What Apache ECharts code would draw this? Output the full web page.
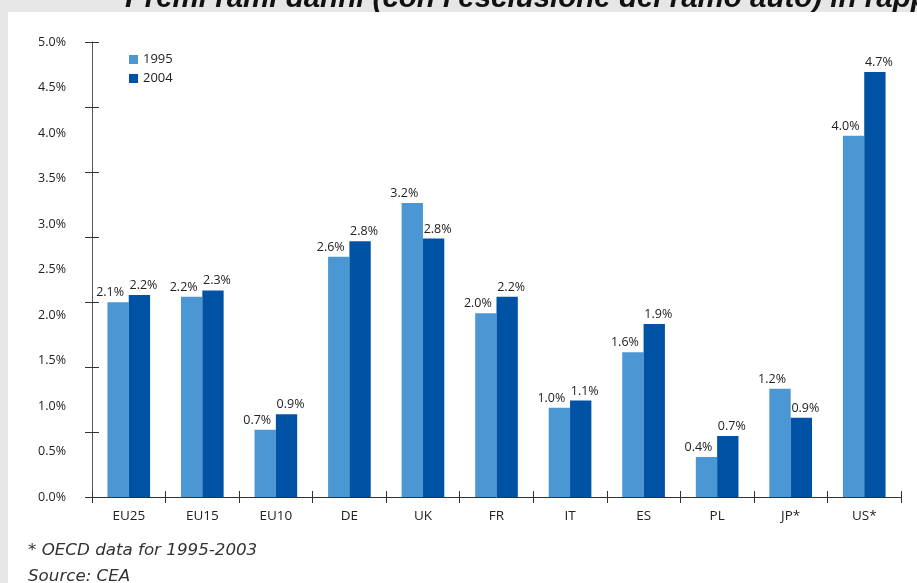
<!DOCTYPE html>
<html>
<head>
<meta charset="utf-8">
<script src="https://cdn.jsdelivr.net/npm/echarts@6/dist/echarts.min.js"></script>
<style>
  html, body { margin: 0; padding: 0; background: #e6e6e6; }
  #chart { width: 917px; height: 583px; }
</style>
</head>
<body>
<div id="chart"></div>
<script>
(function (window, echarts) {
    'use strict';

    const categories = ['EU25', 'EU15', 'EU10', 'DE', 'UK', 'FR', 'IT', 'ES', 'PL', 'JP*', 'US*'];
    const values1995 = [2.14, 2.2, 0.74, 2.64, 3.23, 2.02, 0.98, 1.59, 0.44, 1.19, 3.97];
    const values2004 = [2.22, 2.27, 0.91, 2.81, 2.84, 2.2, 1.06, 1.9, 0.67, 0.87, 4.67];
    const yTicks = [0, 5, 0.5];

    const font = '"Open Sans", "Noto Sans", sans-serif';
    const noteFont = '"DejaVu Sans", sans-serif';
    const textColor = '#222';

    const pct = v => v.toFixed(1) + '%';

    const chart = echarts.init(document.getElementById('chart'), null, {renderer: 'canvas'});

    const barLabel = (dx) => ({
        show: true,
        position: 'top',
        distance: 3,
        offset: [dx, 0],
        color: textColor,
        fontFamily: font,
        fontSize: 12.5,
        formatter: p => pct(p.value)
    });

    // ticks on the y axis do not follow the labels in the original, so an extra scale draws them
    const tickAxis = (inside) => ({
        type: 'value',
        position: 'left',
        min: 0,
        max: 7,
        interval: 1,
        axisLine: {show: false},
        axisLabel: {show: false},
        splitLine: {show: false},
        axisTick: {show: true, inside: inside, length: 7, lineStyle: {color: '#333'}}
    });

    const options = {
        backgroundColor: '#e6e6e6',
        animation: false,
        textStyle: {fontFamily: font},
        graphic: [
            {
                type: 'text', left: 125, top: -16, z: -2,
                style: {
                    text: "Premi rami danni (con l'esclusione del ramo auto) in rapporto al PIL",
                    font: 'italic bold 29.5px "Liberation Sans", Arial, sans-serif',
                    fill: '#111'
                }
            },
            {
                type: 'rect', z: -1,
                shape: {x: 8, y: 12, width: 909, height: 571},
                style: {fill: '#ffffff'}
            },
            {
                type: 'text', left: 28, top: 542,
                style: {text: '* OECD data for 1995-2003', font: 'oblique 16.7px ' + noteFont, fill: '#333'}
            },
            {
                type: 'text', left: 28, top: 568,
                style: {text: 'Source: CEA', font: 'oblique 16.7px ' + noteFont, fill: '#333'}
            }
        ],
        legend: {
            orient: 'vertical',
            left: 124,
            top: 48,
            itemWidth: 9,
            itemHeight: 9,
            itemGap: 6,
            icon: 'rect',
            textStyle: {color: textColor, fontSize: 13, fontFamily: font},
            data: ['1995', '2004']
        },
        grid: {left: 92, right: 16, top: 42, bottom: 86},
        xAxis: [
            {
                type: 'category',
                data: categories,
                axisLine: {lineStyle: {color: '#333'}},
                axisTick: {show: true, length: 6, lineStyle: {color: '#333'}},
                axisLabel: {color: textColor, fontSize: 13.5, margin: 12, fontFamily: font}
            },
            {
                type: 'category',
                data: categories,
                position: 'bottom',
                axisLine: {show: false},
                axisLabel: {show: false},
                axisTick: {show: true, inside: true, length: 6, lineStyle: {color: '#333'}}
            }
        ],
        yAxis: [
            {
                type: 'value',
                min: yTicks[0],
                max: yTicks[1],
                interval: yTicks[2],
                axisLine: {show: true, lineStyle: {color: '#555'}},
                axisTick: {show: false},
                splitLine: {show: false},
                axisLabel: {color: textColor, fontSize: 12.5, margin: 26, fontFamily: font, formatter: pct}
            },
            tickAxis(false),
            tickAxis(true)
        ],
        series: [
            {
                name: '1995',
                type: 'bar',
                data: values1995,
                barGap: '0%',
                barCategoryGap: '42%',
                itemStyle: {color: '#4a97d3'},
                label: barLabel(-8)
            },
            {
                name: '2004',
                type: 'bar',
                data: values2004,
                itemStyle: {color: '#0053a4'},
                label: barLabel(4)
            }
        ]
    };

    chart.setOption(options);
})(window, echarts);
</script>
</body>
</html>
